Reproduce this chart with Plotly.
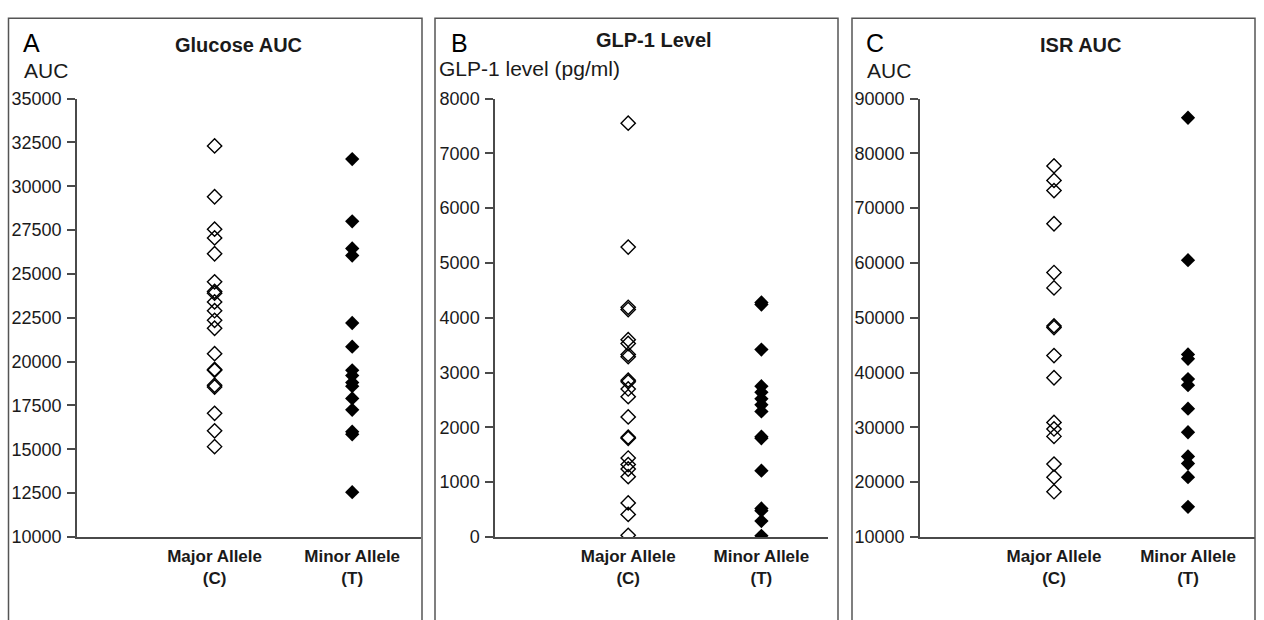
import plotly.graph_objects as go

W, H = 1264, 620

categories = ["Major Allele<br>(C)", "Minor Allele<br>(T)"]
cat_pos = [1, 2]

# Panel A: Glucose AUC
glucose_major = [32300, 29400, 27550, 27050, 26150, 24550, 24000, 23900, 23400, 22900,
                 22350, 21900, 20450, 19550, 19500, 18650, 18550, 17050, 16050, 15150]
glucose_minor = [31550, 28000, 26450, 26050, 22200, 20850, 19500, 19200, 18800, 18600,
                 17900, 17250, 16000, 15850, 12550]

# Panel B: GLP-1 level (pg/ml)
glp_major = [7550, 5290, 4190, 4150, 3600, 3530, 3330, 3290, 2860, 2830, 2700, 2560,
             2190, 1820, 1800, 1440, 1320, 1240, 1100, 620, 410, 30]
glp_minor = [4280, 4240, 3420, 2750, 2640, 2520, 2410, 2290, 1830, 1800, 1210, 520,
             480, 290, 20]

# Panel C: ISR AUC
isr_major = [77700, 75050, 73200, 67150, 58250, 55450, 48500, 48200, 43100, 39050,
             30900, 29700, 28350, 23300, 20900, 18250]
isr_minor = [86500, 60500, 43300, 42500, 38800, 37700, 33400, 29100, 24700, 23400,
             20900, 15500]

panels = [
    dict(letter="A", title="Glucose AUC", ytitle="AUC", major=glucose_major, minor=glucose_minor,
         yrange=[10000, 35000], dtick=2500,
         box=(8.5, 422), axis=(77, 421), letter_x=21, title_x=238, ytitle_x=22),
    dict(letter="B", title="GLP-1 Level", ytitle="GLP-1 level (pg/ml)", major=glp_major, minor=glp_minor,
         yrange=[0, 8000], dtick=1000,
         box=(435, 838), axis=(495, 828), letter_x=449, title_x=654, ytitle_x=437),
    dict(letter="C", title="ISR AUC", ytitle="AUC", major=isr_major, minor=isr_minor,
         yrange=[10000, 90000], dtick=10000,
         box=(852, 1255), axis=(920, 1255), letter_x=864, title_x=1080, ytitle_x=865),
]

FONT = "Liberation Sans, Arial, sans-serif"
AXC = "#4a4a4a"
TXT = "#1a1a1a"

y_top, y_bot = 91.5, 544.5
ydom = [1 - y_bot / H, 1 - y_top / H]

fig = go.Figure()
layout = dict(
    width=W, height=H, margin=dict(l=0, r=0, t=0, b=0),
    paper_bgcolor="white", plot_bgcolor="white", showlegend=False,
    font=dict(family=FONT, color=TXT),
    shapes=[], annotations=[],
)

for i, p in enumerate(panels):
    sfx = "" if i == 0 else str(i + 1)
    xa, ya = "x" + sfx, "y" + sfx
    fig.add_trace(go.Scatter(
        x=[cat_pos[0]] * len(p["major"]), y=p["major"], mode="markers",
        marker=dict(symbol="diamond-open", size=11, color="black", line=dict(width=1.4, color="black")),
        xaxis=xa, yaxis=ya, name="Major"))
    fig.add_trace(go.Scatter(
        x=[cat_pos[1]] * len(p["minor"]), y=p["minor"], mode="markers",
        marker=dict(symbol="diamond", size=11, color="black", line=dict(width=0)),
        xaxis=xa, yaxis=ya, name="Minor"))

    layout["xaxis" + sfx] = dict(
        domain=[p["axis"][0] / W, p["axis"][1] / W], range=[0, 2.5], anchor=ya,
        showline=True, linecolor=AXC, linewidth=1.5, showgrid=False, zeroline=False,
        ticks="", tickvals=cat_pos, ticklabelstandoff=3,
        ticktext=["<b>" + c.replace("<br>", "</b><br><b>") + "</b>" for c in categories],
        tickfont=dict(size=17, family=FONT, color=TXT), fixedrange=True)
    layout["yaxis" + sfx] = dict(
        domain=ydom, range=p["yrange"], dtick=p["dtick"], anchor=xa, tickformat="d",
        showline=True, linecolor=AXC, linewidth=1.5, showgrid=False, zeroline=False,
        ticks="outside", ticklen=8, tickcolor=AXC, tickwidth=1.5, ticklabelstandoff=2,
        tickfont=dict(size=18, family=FONT, color=TXT), fixedrange=True)

    # panel border (open at bottom edge)
    x0, x1 = p["box"]
    layout["shapes"].append(dict(type="rect", xref="paper", yref="paper",
                                 x0=x0 / W, x1=x1 / W, y0=-0.05, y1=1 - 8.5 / H,
                                 line=dict(color="#555555", width=1.5)))
    # letter
    layout["annotations"].append(dict(text=p["letter"], xref="paper", yref="paper",
                                      x=p["letter_x"] / W, y=1 - 34 / H, xanchor="left", yanchor="middle",
                                      showarrow=False, font=dict(size=25, family=FONT, color="black")))
    # title
    layout["annotations"].append(dict(text="<b>" + p["title"] + "</b>", xref="paper", yref="paper",
                                      x=p["title_x"] / W, y=1 - (31 if i == 1 else 36) / H,
                                      xanchor="center", yanchor="middle",
                                      showarrow=False, font=dict(size=20, family=FONT, color=TXT)))
    # y-axis title (horizontal, above axis)
    layout["annotations"].append(dict(text=p["ytitle"], xref="paper", yref="paper",
                                      x=p["ytitle_x"] / W, y=1 - (60 if i == 1 else 63) / H,
                                      xanchor="left", yanchor="middle",
                                      showarrow=False, font=dict(size=21, family=FONT, color=TXT)))

fig.update_layout(**layout)
fig.write_html(
    "out.html",
    config={"displayModeBar": False, "responsive": False},
    post_script=(
        "document.documentElement.style.margin='0';"
        "document.body.style.margin='0';document.body.style.padding='0';"
        "document.body.style.overflow='hidden';"
        "var d=document.getElementById('{plot_id}');"
        "d.style.position='fixed';d.style.top='0px';d.style.left='0px';"
    ),
)
